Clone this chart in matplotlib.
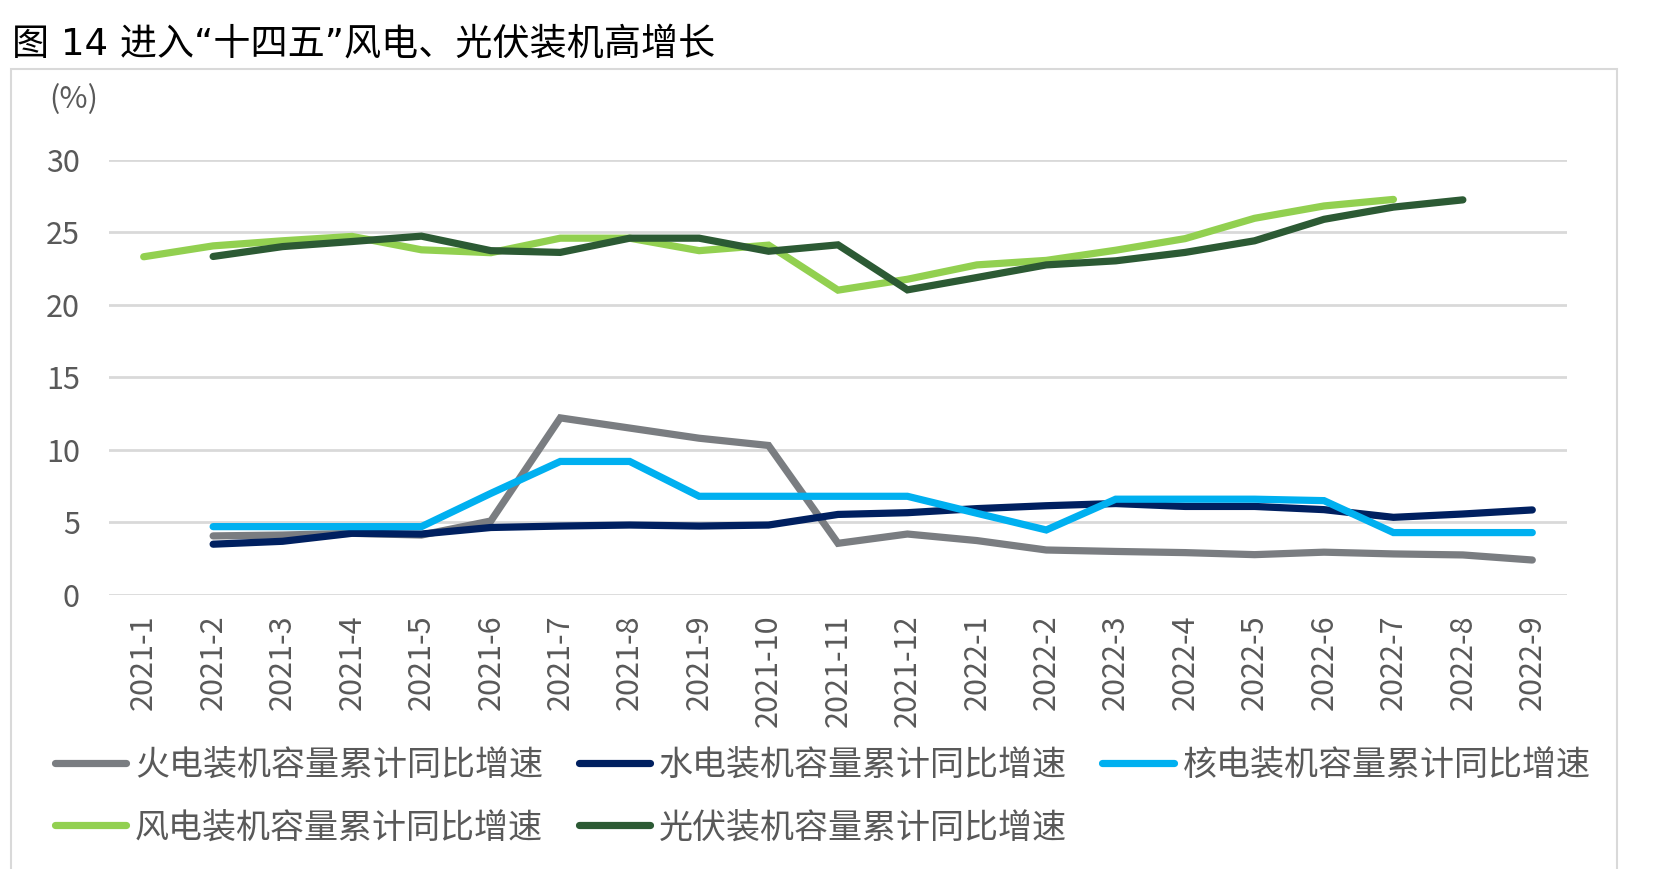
import matplotlib
matplotlib.use("Agg")
import matplotlib.pyplot as plt
from matplotlib.patches import Rectangle
import numpy as np

plt.rcParams['font.family'] = ['Noto Sans CJK SC', 'DejaVu Sans']

months = ["2021-1", "2021-2", "2021-3", "2021-4", "2021-5", "2021-6", "2021-7",
          "2021-8", "2021-9", "2021-10", "2021-11", "2021-12", "2022-1", "2022-2",
          "2022-3", "2022-4", "2022-5", "2022-6", "2022-7", "2022-8", "2022-9"]

nan = np.nan
thermal = [nan, 4.07, 4.13, 4.25, 4.13, 5.1, 12.2, 11.5, 10.8, 10.3, 3.56, 4.2,
           3.75, 3.1, 3.0, 2.92, 2.78, 2.95, 2.83, 2.76, 2.41]
hydro = [nan, 3.5, 3.7, 4.25, 4.2, 4.65, 4.75, 4.82, 4.75, 4.82, 5.55, 5.67,
         5.95, 6.15, 6.3, 6.1, 6.1, 5.88, 5.35, 5.58, 5.86]
nuclear = [nan, 4.71, 4.71, 4.71, 4.71, 7.0, 9.2, 9.2, 6.8, 6.8, 6.8, 6.8,
           5.63, 4.48, 6.6, 6.6, 6.6, 6.5, 4.3, 4.3, 4.3]
wind = [23.3, 24.05, 24.4, 24.7, 23.78, 23.58, 24.58, 24.58, 23.72, 24.1, 21.0, 21.75,
        22.74, 23.05, 23.75, 24.55, 25.95, 26.8, 27.25, nan, nan]
solar = [nan, 23.32, 24.0, 24.35, 24.72, 23.72, 23.6, 24.58, 24.58, 23.68, 24.12, 21.02,
         21.87, 22.74, 23.02, 23.6, 24.4, 25.88, 26.72, 27.22, nan]

names = ["火电装机容量累计同比增速", "水电装机容量累计同比增速", "核电装机容量累计同比增速",
         "风电装机容量累计同比增速", "光伏装机容量累计同比增速"]
colors = ["#7A7D81", "#002060", "#00B0F0", "#92D050", "#2C5A34"]
series = [thermal, hydro, nuclear, wind, solar]

fig = plt.figure(figsize=(16.55, 8.69), dpi=100)
ax = fig.add_axes([109/1655, 1-595/869, (1567-109)/1655, (595-159.5)/869])

x = np.arange(len(months))
handles = []
for vals, c, n in zip(series, colors, names):
    h, = ax.plot(x, vals, color=c, lw=5.2, label=n,
                 solid_capstyle='round', solid_joinstyle='miter')
    handles.append(h)

ax.set_xlim(-0.5, len(months) - 0.5)
ax.set_ylim(0, 30)
ax.set_yticks([0, 5, 10, 15, 20, 25, 30])
ax.set_xticks(x)
ax.set_xticklabels(months, rotation=90)
ax.tick_params(axis='y', length=0, pad=21, labelsize=22, labelcolor='#595959')
ax.tick_params(axis='x', length=0, pad=14, labelsize=22, labelcolor='#595959')
ax.grid(axis='y', color='#D9D9D9', lw=2)
ax.set_axisbelow(True)
for s in ax.spines.values():
    s.set_visible(False)

# chart frame
fig.patches.append(Rectangle((11/1655, -0.1), (1617-11)/1655, 1-69/869+0.1,
                             transform=fig.transFigure, fill=False,
                             edgecolor='#D9D9D9', lw=1.5))

fig.text(12/1655, 1-44/869, "图 14 进入“十四五”风电、光伏装机高增长",
         fontsize=26.7, va='center', ha='left', color='black',
         family=['DejaVu Sans', 'Noto Sans CJK SC'])
fig.text(74/1655, 1-100/869, "(%)", fontsize=22, va='center', ha='center',
         color='#595959')

order = [0, 3, 1, 4, 2]
leg = fig.legend([handles[i] for i in order], [names[i] for i in order],
                 loc='upper left', bbox_to_anchor=(55/1655, 1-748/869),
                 ncol=3, frameon=False, fontsize=24.5, labelcolor='#595959',
                 handlelength=2.1, handletextpad=0.25, columnspacing=1.05,
                 labelspacing=0.8, borderpad=0, borderaxespad=0)

fig.savefig("out.png", dpi=100)
